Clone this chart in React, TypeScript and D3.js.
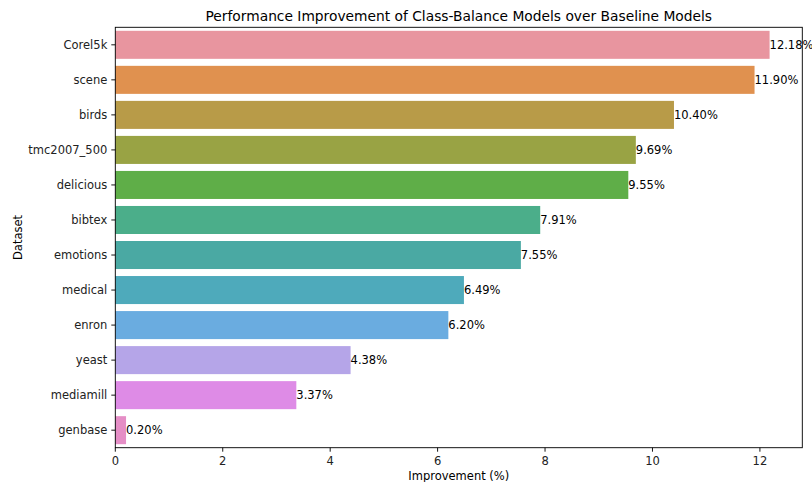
import React from "react";
import * as d3 from "d3";

const datasets = ["Corel5k", "scene", "birds", "tmc2007_500", "delicious", "bibtex", "emotions", "medical", "enron", "yeast", "mediamill", "genbase"];
const improvement = [12.18, 11.9, 10.4, 9.69, 9.55, 7.91, 7.55, 6.49, 6.2, 4.38, 3.37, 0.2];
const barColors = ["#e8959f", "#e0914f", "#b89b48", "#99a344", "#5fae48", "#4bae8a", "#4aa9a3", "#4eaabb", "#6aace0", "#b5a5e8", "#de8be6", "#e58ec6"];
const xTicks = [0, 2, 4, 6, 8, 10, 12];

const W = 812;
const H = 482;
const margin = { left: 115.3, right: 9.7, top: 27.3, bottom: 34.3 };
const font = "DejaVu Sans, sans-serif";
const fs = 11.5; // tick / label size
const lw = 0.92;

export default function App() {
  const x = d3.scaleLinear()
    .domain([0, d3.max(improvement)! * 1.05])
    .range([margin.left, W - margin.right]);
  const y = d3.scaleBand()
    .domain(datasets)
    .range([margin.top, H - margin.bottom])
    .paddingInner(0.2)
    .paddingOuter(0.1);

  const bottom = H - margin.bottom;
  const cx = (margin.left + W - margin.right) / 2;

  return (
    <svg width={W} height={H} style={{ position: "absolute", left: 0, top: 0 }} fontFamily={font}>
      <rect width={W} height={H} fill="#fff" />
      {datasets.map((d, i) => (
        <g key={d}>
          <rect x={x(0)} y={y(d)} width={x(improvement[i]) - x(0)} height={y.bandwidth()} fill={barColors[i]} />
          <text x={x(improvement[i])} y={y(d)! + y.bandwidth() / 2} dy="0.36em" fontSize={fs} fill="#000">
            {improvement[i].toFixed(2)}%
          </text>
          <line x1={margin.left - 4} x2={margin.left} y1={y(d)! + y.bandwidth() / 2} y2={y(d)! + y.bandwidth() / 2} stroke="#000" strokeWidth={lw} />
          <text x={margin.left - 8} y={y(d)! + y.bandwidth() / 2} dy="0.36em" fontSize={fs} textAnchor="end" fill="#222">{d}</text>
        </g>
      ))}
      {xTicks.map(t => (
        <g key={t}>
          <line x1={x(t)} x2={x(t)} y1={bottom} y2={bottom + 4} stroke="#000" strokeWidth={lw} />
          <text x={x(t)} y={464.5} fontSize={fs} textAnchor="middle" fill="#222">{t}</text>
        </g>
      ))}
      <rect x={margin.left} y={margin.top} width={W - margin.right - margin.left} height={bottom - margin.top} fill="none" stroke="#000" strokeWidth={lw} />
      <text x={cx} y={20.5} fontSize={13.8} textAnchor="middle" fill="#000">Performance Improvement of Class-Balance Models over Baseline Models</text>
      <text x={cx} y={479.5} fontSize={fs} textAnchor="middle" fill="#000">Improvement (%)</text>
      <text transform={`translate(21.5,${(margin.top + bottom) / 2}) rotate(-90)`} fontSize={fs} textAnchor="middle" fill="#000">Dataset</text>
    </svg>
  );
}
